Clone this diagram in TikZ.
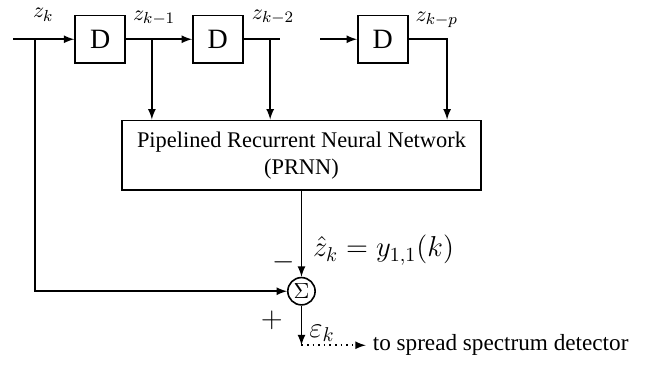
\documentclass[tikz,border=0pt]{standalone}
\usepackage{fontspec}
\setmainfont{Liberation Serif}
\usepackage{xcolor}
\usepackage{tikz}

\begin{document}
\begin{tikzpicture}[
    delay/.style={
        rectangle,
        draw,
        thick,
        minimum width=8.8mm,
        minimum height=8.4mm,
        inner sep=0pt,
        font=\fontsize{14}{16}\selectfont
    },
    netbox/.style={
        rectangle,
        draw,
        thick,
        align=center,
        minimum width=63.1mm,
        minimum height=12.3mm,
        font=\fontsize{11.2}{13.5}\selectfont
    },
    sumnode/.style={
        circle,
        draw,
        thick,
        minimum size=4.8mm,
        inner sep=0pt,
        font=\fontsize{11}{13}\selectfont
    },
    tag/.style={
        font=\fontsize{11}{13}\selectfont
    },
    bigtag/.style={
        font=\fontsize{14.5}{16}\selectfont
    },
    arrow/.style={
        -latex,
        thick
    },
    line/.style={
        thick
    },
    dottedarrow/.style={
        -latex,
        thick,
        dotted
    }
]

\useasboundingbox (0,0) rectangle (11.41,-6.40);

\coordinate (in)    at (0.23,-0.69);
\coordinate (tap0)  at (0.62,-0.69);
\coordinate (tap1)  at (2.67,-0.69);
\coordinate (tap2)  at (4.75,-0.69);
\coordinate (end2)  at (4.92,-0.69);
\coordinate (in3)   at (5.63,-0.69);
\coordinate (corner) at (7.86,-0.69);
\coordinate (out)   at (5.30,-6.07);

\node[delay] (d1) at (1.76,-0.69) {D};
\node[delay] (d2) at (3.83,-0.69) {D};
\node[delay] (d3) at (6.73,-0.69) {D};


\node[tag] (zk)  at (0.76,-0.26) {$z_k$};
\node[tag] (zk1) at (2.71,-0.32) {$z_{k-1}$};
\node[tag] (zk2) at (4.80,-0.30) {$z_{k-2}$};
\node[tag] (zkp) at (7.68,-0.35) {$z_{k-p}$};


\node[netbox] (prnn) at (5.30,-2.73)
    {Pipelined Recurrent Neural Network\\
     (PRNN)};


\node[sumnode] (sum) at (5.30,-5.12) {$\Sigma$};

\node[bigtag, anchor=west] (zhat) at (5.38,-4.40) {$\hat{z}_k = y_{1,1}(k)$};
\node[bigtag] (minus) at (4.98,-4.61) {$-$};
\node[bigtag] (plus)  at (4.78,-5.63) {$+$};
\node[bigtag] (eps)   at (5.66,-5.86) {$\varepsilon_k$};

\node[tag, anchor=west, font=\fontsize{11.6}{13}\selectfont] (det) at (6.43,-6.07)
    {to spread spectrum detector};


\draw[arrow] (in) -- (d1);
\draw[arrow] (d1) -- (d2);
\draw[line] (d2) -- (end2);
\draw[arrow] (in3) -- (d3);
\draw[arrow] (d3) -- (corner) -- (corner |- prnn.north);

\draw[arrow] (tap1) -- (tap1 |- prnn.north);
\draw[arrow] (tap2) -- (tap2 |- prnn.north);

\draw[arrow] (tap0) |- (sum);

\draw[arrow] (prnn) -- (sum);
\draw[arrow] (sum) -- (out);
\draw[dottedarrow] (out) -- (det);

\end{tikzpicture}
\end{document}
